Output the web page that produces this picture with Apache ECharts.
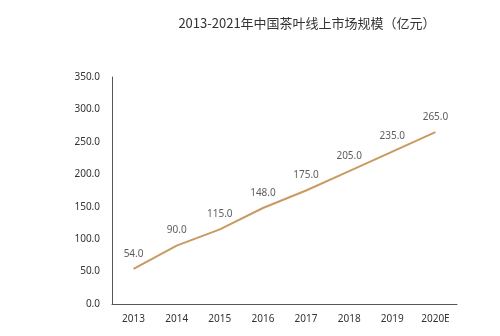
<!DOCTYPE html>
<html><head><meta charset="utf-8">
<script src="https://cdn.jsdelivr.net/npm/echarts@6/dist/echarts.min.js"></script>
<style>html,body{margin:0;padding:0;background:#fff}#c{width:500px;height:336px}</style>
</head><body><div id="c"></div>
<script>
const title = "2013-2021年中国茶叶线上市场规模（亿元）";
const categories = ["2013","2014","2015","2016","2017","2018","2019","2020E"];
const values = [54.0, 90.0, 115.0, 148.0, 175.0, 205.0, 235.0, 265.0];
const yTicks = {min:0, max:350, interval:50};

const chart = echarts.init(document.getElementById('c'), null, {renderer:'canvas'});
chart.setOption({
  backgroundColor:'#fff',
  animation:false,
  title:{text:title, left:302, top:12, textAlign:'center',
    textStyle:{fontFamily:'Noto Sans CJK SC', fontSize:13, fontWeight:'normal', color:'#333'}},
  grid:{left:112, right:43, top:77, bottom:32},
  xAxis:{type:'category', data:categories, boundaryGap:true,
    axisLine:{lineStyle:{color:'#555', width:1}}, axisTick:{show:false},
    axisLabel:{color:'#333', fontSize:10, margin:10, fontFamily:'Noto Sans'}},
  yAxis:{type:'value', min:yTicks.min, max:yTicks.max, interval:yTicks.interval,
    axisLine:{show:true, lineStyle:{color:'#555', width:1}}, axisTick:{show:false},
    splitLine:{show:false},
    axisLabel:{color:'#333', fontSize:10, margin:12, fontFamily:'Noto Sans',
      formatter:v=>v.toFixed(1)}},
  series:[
    {type:'line', data:values, symbol:'none', silent:true,
      lineStyle:{color:'#c99a62', width:2}},
    {type:'scatter', data:values, symbol:'circle', symbolSize:2, silent:true,
      itemStyle:{color:'rgba(255,255,255,0)'},
      label:{show:true, position:'top', distance:9, color:'#333', fontSize:10,
        fontFamily:'Noto Sans', formatter:p=>p.value.toFixed(1)}}
  ]
});
</script></body></html>
